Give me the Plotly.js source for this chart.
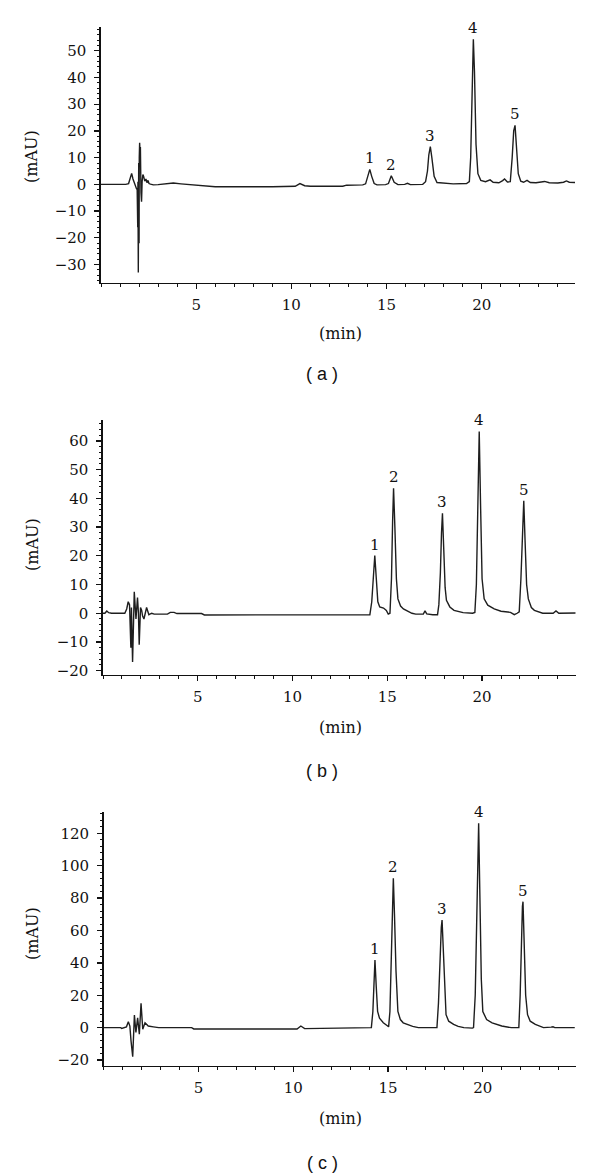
<!DOCTYPE html>
<html>
<head>
<meta charset="utf-8">
<script src="https://cdn.plot.ly/plotly-3.0.1.min.js"></script>
<style>
  html, body { margin: 0; padding: 0; background: #ffffff; }
  #chart { width: 600px; height: 1175px; }
</style>
</head>
<body>
<div id="chart"></div>
<script>
// ---------- Data ----------
// Panel (a)
const timeA = [0, 1.3, 1.45, 1.55, 1.61, 1.68, 1.78, 1.86, 1.90, 1.93,
  1.94, 1.96, 1.98, 2.00, 2.01, 2.03, 2.05, 2.07, 2.10, 2.13,
  2.16, 2.20, 2.24, 2.30, 2.36, 2.42, 2.47, 2.52, 2.60, 2.75,
  3.0, 3.4, 3.8, 4.2, 4.8, 5.5, 6.0, 9.0, 10.2, 10.45,
  10.7, 11.0, 12.7, 12.9, 13.75, 13.9, 14.0, 14.12, 14.22, 14.35,
  14.5, 14.95, 15.1, 15.25, 15.4, 15.6, 15.95, 16.1, 16.25, 16.9,
  17.05, 17.15, 17.22, 17.3, 17.38, 17.5, 17.65, 18.5, 19.2, 19.35,
  19.42, 19.5, 19.56, 19.62, 19.7, 19.8, 19.95, 20.2, 20.44, 20.6,
  20.9, 21.1, 21.2, 21.35, 21.5, 21.6, 21.68, 21.75, 21.82, 21.92,
  22.05, 22.2, 22.38, 22.55, 22.85, 23.1, 23.3, 23.55, 24.0, 24.3,
  24.45, 24.6, 24.9];
const signalA = [0, 0, 0.3, 2.5, 4.1, 2.0, -0.5, -1.5, -2, -16,
  1, -33, 8, -22, 10, 15.6, 12, 14, -3, -6.5,
  1, 3.7, 3.0, 1.2, 2.0, 0.6, 1.5, 0.3, 0.1, -0.2,
  -0.1, 0.1, 0.5, 0.2, -0.2, -0.8, -0.9, -0.9, -0.7, 0.3,
  -0.5, -0.7, -0.7, -0.3, -0.2, 0.2, 3, 5.6, 3, 0.3,
  -0.2, -0.1, 0.3, 3.2, 0.8, -0.1, 0, 0.4, -0.1, 0,
  1, 5, 11, 14.1, 10, 3, 0.7, 0.2, 0.3, 1,
  10, 35, 54.3, 42, 15, 4, 1.5, 1.0, 1.7, 0.8,
  0.6, 1.4, 2.0, 0.9, 1, 10, 20, 22.1, 14, 4,
  1.2, 0.8, 1.5, 0.7, 0.6, 1.0, 1.1, 0.6, 0.5, 0.8,
  1.3, 0.8, 0.7];

// Panel (b)
const timeB = [0, 0.1, 0.2, 0.3, 0.45, 1.15, 1.25, 1.33, 1.40, 1.47,
  1.50, 1.56, 1.65, 1.70, 1.74, 1.82, 1.87, 1.91, 1.98, 2.04,
  2.09, 2.16, 2.30, 2.42, 2.57, 2.7, 3.4, 3.55, 3.75, 3.9,
  5.2, 5.35, 13.95, 14.08, 14.18, 14.26, 14.34, 14.42, 14.5, 14.6,
  14.8, 14.95, 15.05, 15.14, 15.22, 15.28, 15.33, 15.4, 15.48, 15.56,
  15.7, 15.85, 16.06, 16.3, 16.5, 16.9, 16.99, 17.08, 17.4, 17.65,
  17.72, 17.8, 17.86, 17.91, 17.98, 18.05, 18.12, 18.3, 18.52, 19.0,
  19.5, 19.62, 19.7, 19.78, 19.85, 19.92, 20.0, 20.11, 20.3, 20.64,
  21.0, 21.5, 21.7, 21.85, 21.96, 22.05, 22.13, 22.2, 22.27, 22.35,
  22.44, 22.6, 22.76, 23.2, 23.75, 23.9, 24.05, 24.3, 24.94];
const signalB = [0, 0, 0.8, 0.2, 0, 0, 1.5, 4.0, 3, -12,
  2, -17, 7.5, 3, -2, 5.5, 0, -11, 2, 1,
  -1, -2, 2, -0.5, 0, -0.3, -0.3, 0.3, 0.3, -0.1,
  -0.1, -0.6, -0.6, -0.5, 4, 12, 20.1, 12, 4, 2.2,
  1.8, 1.0, -0.3, 0, 12, 32, 43.5, 30, 12, 5,
  2.5, 1.5, 0.8, 0, -0.3, -0.3, 0.8, -0.2, -0.5, -0.5,
  3, 14, 28, 34.8, 22, 9, 4.5, 2.2, 1, 0.2,
  0, 0.3, 10, 40, 63.3, 38, 12, 5, 2.8, 1.5,
  0.7, 0.3, -0.5, 0, 0.5, 12, 30, 39.2, 25, 10,
  5, 2, 1, 0, 0, 0.8, 0, 0, 0.1];

// Panel (c)
const timeC = [0, 0.9, 0.95, 1.05, 1.2, 1.30, 1.38, 1.44, 1.53, 1.62,
  1.70, 1.79, 1.88, 1.97, 2.06, 2.18, 2.35, 2.62, 2.9, 4.64,
  4.75, 10.2, 10.4, 10.6, 14.05, 14.12, 14.2, 14.27, 14.31, 14.38,
  14.45, 14.55, 14.75, 14.98, 15.03, 15.1, 15.18, 15.24, 15.28, 15.34,
  15.42, 15.52, 15.65, 15.8, 16.0, 16.3, 16.6, 17.5, 17.58, 17.66,
  17.74, 17.81, 17.85, 17.92, 18.0, 18.06, 18.2, 18.46, 18.7, 19.0,
  19.45, 19.51, 19.6, 19.68, 19.74, 19.78, 19.84, 19.92, 20.0, 20.2,
  20.49, 21.0, 21.5, 21.85, 21.9, 21.97, 22.04, 22.09, 22.12, 22.18,
  22.26, 22.36, 22.5, 22.77, 23.2, 23.6, 23.7, 23.8, 24.85];
const signalC = [0, 0, -0.5, 0, 0.5, 3.7, 1, -8, -17.9, 7.8,
  -3, 6, -4, 15, -1, 3, 1, 0.5, 0, 0,
  -0.8, -0.8, 1.0, -0.6, -0.4, 0, 10, 30, 41.8, 25,
  10, 5.8, 3, 1, 0.5, 10, 45, 80, 92.2, 70,
  35, 10, 5, 3, 2, 0.8, 0, -0.4, 0, 15,
  45, 62, 66.5, 45, 20, 8, 4, 2, 0.8, 0,
  -0.3, 0, 20, 80, 120, 126.2, 85, 30, 10, 5,
  3, 1, 0, -0.3, 0, 20, 60, 75, 77.8, 50,
  20, 8, 4, 2, 0, 0.3, 0.5, 0, 0];

// Peak labels
const peakLabels = ['1', '2', '3', '4', '5'];
const peakTimeA = [14.12, 15.25, 17.3, 19.56, 21.75];
const peakTopA  = [5.6, 3.2, 14.1, 54.3, 22.1];
const peakTimeB = [14.34, 15.33, 17.91, 19.85, 22.2];
const peakTopB  = [20.1, 43.5, 34.8, 63.3, 39.2];
const peakTimeC = [14.31, 15.28, 17.85, 19.78, 22.12];
const peakTopC  = [41.8, 92.2, 66.5, 126.2, 77.8];

// Axis ticks
const xTicks = [5, 10, 15, 20];
const yTicksA = [-30, -20, -10, 0, 10, 20, 30, 40, 50];
const yTicksB = [-20, -10, 0, 10, 20, 30, 40, 50, 60];
const yTicksC = [-20, 0, 20, 40, 60, 80, 100, 120];

// Text
const xTitle = '(min)';
const yTitle = '(mAU)';
const panelNames = ['( a )', '( b )', '( c )'];

// ---------- Figure ----------
const W = 600, H = 1175;
const px = v => v / W;
const py = v => 1 - v / H;

function trace(x, y, xa, ya) {
  return { x: x, y: y, xaxis: xa, yaxis: ya, type: 'scatter', mode: 'lines',
           line: { color: '#1e1e1e', width: 1.4 }, hoverinfo: 'skip', showlegend: false };
}
const data = [
  trace(timeA, signalA, 'x', 'y'),
  trace(timeB, signalB, 'x2', 'y2'),
  trace(timeC, signalC, 'x3', 'y3')
];

const serif = 'DejaVu Serif';
const tickFont = () => ({ family: serif, size: 15, color: '#111' });

function xAxis(domain, anchor, rangeMax) {
  return {
    domain: domain, anchor: anchor, range: [0, rangeMax],
    showline: true, linecolor: '#111', linewidth: 1.6,
    showgrid: false, zeroline: false,
    ticks: 'outside', ticklen: 5, tickwidth: 1.3, tickcolor: '#111',
    tickmode: 'array', tickvals: xTicks, tickfont: tickFont(),
    ticklabelstandoff: 3,
    minor: { ticks: 'outside', ticklen: 3, tickwidth: 1, tickcolor: '#111', dtick: 1, tick0: 0 }
  };
}
function yAxis(domain, anchor, range, tickvals, minorStep) {
  return {
    domain: domain, anchor: anchor, range: range,
    showline: true, linecolor: '#111', linewidth: 1.6,
    showgrid: false, zeroline: false,
    ticks: 'outside', ticklen: 5, tickwidth: 1.3, tickcolor: '#111',
    tickmode: 'array', tickvals: tickvals, tickfont: tickFont(),
    ticklabelstandoff: 5,
    minor: { ticks: 'outside', ticklen: 2.5, tickwidth: 1, tickcolor: '#111', dtick: minorStep, tick0: 0 }
  };
}

const annotations = [];
function peakAnn(times, tops, xref, yref) {
  for (let i = 0; i < peakLabels.length; i++) {
    annotations.push({
      x: times[i], y: tops[i], xref: xref, yref: yref,
      text: peakLabels[i], showarrow: false,
      xanchor: 'center', yanchor: 'bottom', yshift: 0,
      font: { family: serif, size: 15, color: '#111' }
    });
  }
}
peakAnn(peakTimeA, peakTopA, 'x', 'y');
peakAnn(peakTimeB, peakTopB, 'x2', 'y2');
peakAnn(peakTimeC, peakTopC, 'x3', 'y3');

function textAnn(x, y, text, font, angle) {
  annotations.push({
    x: px(x), y: py(y), xref: 'paper', yref: 'paper',
    text: text, showarrow: false, xanchor: 'center', yanchor: 'middle',
    textangle: angle || 0, font: font
  });
}
const titleFont = { family: serif, size: 16, color: '#111' };
const panelFont = { family: 'Liberation Sans', size: 18, color: '#111' };

// y titles
textAnn(32, 157, yTitle, titleFont, -90);
textAnn(32, 545, yTitle, titleFont, -90);
textAnn(32, 934, yTitle, titleFont, -90);
// x titles
textAnn(340, 334, xTitle, titleFont);
textAnn(340, 727, xTitle, titleFont);
textAnn(340, 1118, xTitle, titleFont);
// panel names
textAnn(322, 374, panelNames[0], panelFont);
textAnn(322, 771, panelNames[1], panelFont);
textAnn(322, 1163, panelNames[2], panelFont);

const layout = {
  width: W, height: H, autosize: false,
  margin: { l: 0, r: 0, t: 0, b: 0, pad: 0 },
  paper_bgcolor: '#ffffff', plot_bgcolor: '#ffffff',
  showlegend: false,
  xaxis:  xAxis([px(101), px(575)], 'y', 24.9),
  yaxis:  yAxis([py(282.7), py(27)], 'x', [-36.8, 58.9], yTicksA, 2),
  xaxis2: xAxis([px(103), px(575.7)], 'y2', 24.94),
  yaxis2: yAxis([py(674.7), py(420)], 'x2', [-21.4, 67.3], yTicksB, 2),
  xaxis3: xAxis([px(103.7), px(575.7)], 'y3', 24.9),
  yaxis3: yAxis([py(1065.7), py(812.3)], 'x3', [-23.5, 133], yTicksC, 4),
  annotations: annotations
};

Plotly.newPlot('chart', data, layout, { staticPlot: true, displayModeBar: false });
</script>
</body>
</html>
